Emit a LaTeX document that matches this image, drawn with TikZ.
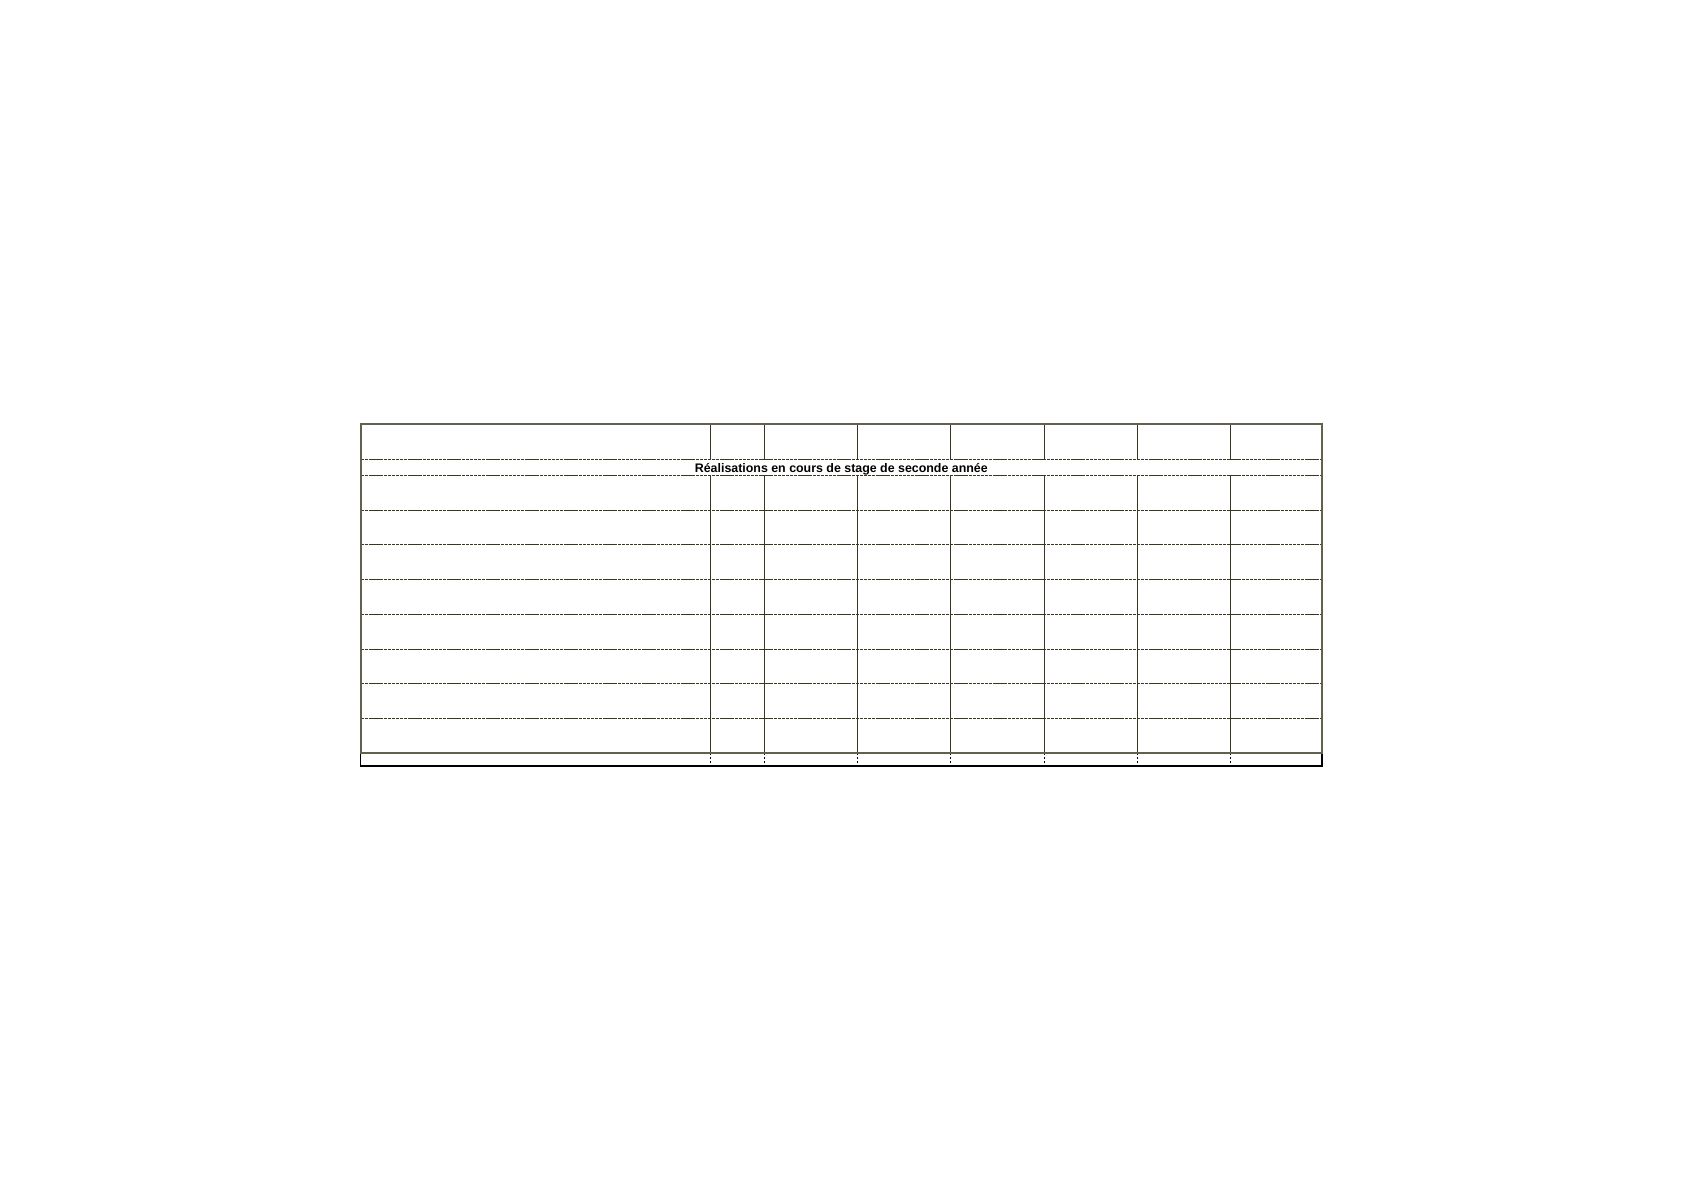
\documentclass[tikz,border=0pt]{standalone}
\usepackage{fontspec}
\setmainfont{Liberation Sans}
\definecolor{frame}{RGB}{100,96,78}
\definecolor{grid}{RGB}{58,54,34}
\begin{document}
\begin{tikzpicture}[x=0.5pt,y=-0.5pt,
  framebox/.style={draw=frame,line width=1pt},
  gridline/.style={draw=grid,line width=0.45pt,dash pattern=on 1.6pt off 0.35pt},
  vline/.style={draw=grid,line width=0.45pt},
  footbox/.style={draw=black,line width=0.6pt},
  footdot/.style={draw=black,line width=0.4pt,dash pattern=on 1pt off 1pt},
  title/.style={font=\bfseries\fontsize{6.2}{7.5}\selectfont,inner sep=0pt}]
\useasboundingbox (0,0) rectangle (1683,1190);
% footer row
\draw[footbox] (360.7,753) rectangle (1322,766);
\foreach \x in {710.5,764,857.3,950.7,1044,1137.3,1230.7}
  \draw[footdot] (\x,753) -- (\x,766);
% horizontal grid lines
\foreach \y in {459.3,475.3,510,544.7,579.5,614.3,649,683.8,718.6}
  \draw[gridline] (360.7,\y) -- (1322,\y);
% vertical lines
\foreach \x in {710.5,764,857.3,950.7,1044,1137.3,1230.7}{
  \draw[vline] (\x,424.3) -- (\x,459.3);
  \draw[vline] (\x,475.3) -- (\x,753);
}
% outer frame
\draw[framebox] (360.7,424.3) rectangle (1322,753);
\node[title,anchor=base] (t) at (841.3,472.5) {Réalisations en cours de stage de seconde année};
\end{tikzpicture}
\end{document}
